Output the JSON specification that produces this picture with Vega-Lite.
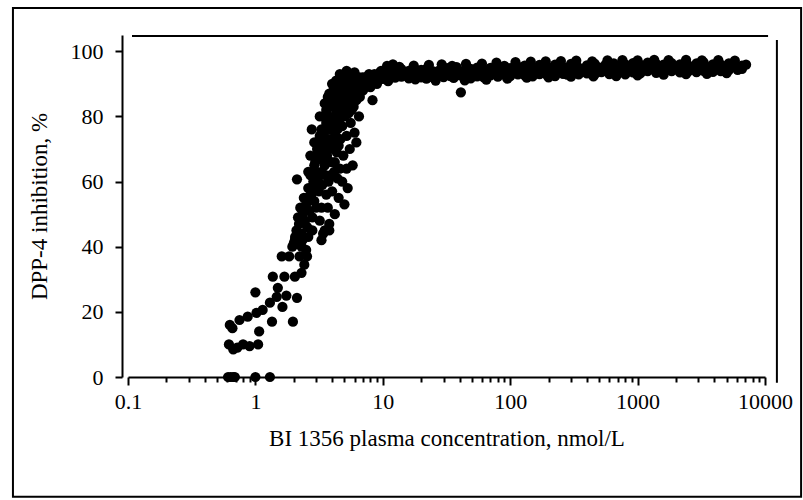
{
  "$schema": "https://vega.github.io/schema/vega-lite/v6.json",
  "width": 637,
  "height": 342,
  "autosize": {"type": "none"},
  "padding": {"left": 128, "top": 35, "right": 38, "bottom": 123},
  "background": "white",
  "config": {"view": {"stroke": null}, "font": "Liberation Serif"},
  "datasets": {
    "pts": [
      {"c": 0.61, "i": 0}, {"c": 0.64, "i": 0}, {"c": 0.67, "i": 0}, {"c": 0.69, "i": 0}, {"c": 1.0, "i": 0}, {"c": 1.3, "i": 0},
      {"c": 0.62, "i": 10}, {"c": 0.67, "i": 8.5}, {"c": 0.72, "i": 9}, {"c": 0.8, "i": 10}, {"c": 0.9, "i": 9.5}, {"c": 1.05, "i": 10},
      {"c": 0.63, "i": 16}, {"c": 0.66, "i": 15}, {"c": 0.75, "i": 17.5}, {"c": 0.87, "i": 18.5}, {"c": 1.0, "i": 26}, {"c": 1.02, "i": 19.7},
      {"c": 1.07, "i": 14}, {"c": 1.14, "i": 20.6}, {"c": 1.3, "i": 22.8}, {"c": 1.35, "i": 17}, {"c": 1.37, "i": 30.8}, {"c": 1.47, "i": 24.6},
      {"c": 1.5, "i": 27.4}, {"c": 1.63, "i": 21.5}, {"c": 1.69, "i": 30.8}, {"c": 1.75, "i": 25}, {"c": 1.61, "i": 37}, {"c": 1.84, "i": 37},
      {"c": 1.97, "i": 17}, {"c": 2.12, "i": 24.3}, {"c": 2.04, "i": 30.8}, {"c": 2.22, "i": 37}, {"c": 2.3, "i": 32}, {"c": 2.54, "i": 37},
      {"c": 2.42, "i": 34.5}, {"c": 1.95, "i": 40}, {"c": 2.05, "i": 43}, {"c": 2.3, "i": 40}, {"c": 2.5, "i": 39},
      {"c": 2.12, "i": 60.7}, {"c": 2.16, "i": 49}, {"c": 2.04, "i": 42}, {"c": 2.34, "i": 42}, {"c": 2.54, "i": 55}, {"c": 2.77, "i": 76},
      {"c": 3.2, "i": 74}, {"c": 2.9, "i": 65}, {"c": 3.1, "i": 58.5}, {"c": 3.3, "i": 52}, {"c": 3.4, "i": 44}, {"c": 3.8, "i": 45},
      {"c": 3.8, "i": 87}, {"c": 5.0, "i": 53}, {"c": 5.8, "i": 65}, {"c": 6.0, "i": 75}, {"c": 4.3, "i": 82}, {"c": 5.2, "i": 85},
      {"c": 5.8, "i": 91.4}, {"c": 8.3, "i": 85}, {"c": 6.9, "i": 92}, {"c": 9.5, "i": 93.5}, {"c": 12, "i": 96},
      {"c": 2.0, "i": 41}, {"c": 2.1, "i": 45}, {"c": 2.2, "i": 47}, {"c": 2.25, "i": 52}, {"c": 2.3, "i": 44}, {"c": 2.35, "i": 50},
      {"c": 2.4, "i": 55}, {"c": 2.45, "i": 48}, {"c": 2.5, "i": 53}, {"c": 2.55, "i": 46}, {"c": 2.6, "i": 58}, {"c": 2.65, "i": 51},
      {"c": 2.7, "i": 62}, {"c": 2.75, "i": 56}, {"c": 2.8, "i": 49}, {"c": 2.85, "i": 60}, {"c": 2.9, "i": 54}, {"c": 2.95, "i": 66},
      {"c": 3.0, "i": 58}, {"c": 3.0, "i": 63}, {"c": 3.05, "i": 70}, {"c": 3.1, "i": 61}, {"c": 3.15, "i": 57}, {"c": 3.2, "i": 67},
      {"c": 3.25, "i": 72}, {"c": 3.3, "i": 63}, {"c": 3.35, "i": 59}, {"c": 3.4, "i": 69}, {"c": 3.45, "i": 75}, {"c": 3.5, "i": 65},
      {"c": 3.5, "i": 71}, {"c": 3.55, "i": 62}, {"c": 3.6, "i": 78}, {"c": 3.65, "i": 68}, {"c": 3.7, "i": 73}, {"c": 3.75, "i": 60},
      {"c": 3.8, "i": 80}, {"c": 3.85, "i": 70}, {"c": 3.9, "i": 76}, {"c": 3.95, "i": 66}, {"c": 4.0, "i": 83}, {"c": 4.0, "i": 72},
      {"c": 4.1, "i": 78}, {"c": 4.15, "i": 63}, {"c": 4.2, "i": 86}, {"c": 4.25, "i": 74}, {"c": 4.3, "i": 80}, {"c": 4.35, "i": 69},
      {"c": 4.4, "i": 76}, {"c": 4.45, "i": 84}, {"c": 4.5, "i": 71}, {"c": 4.55, "i": 79}, {"c": 4.6, "i": 88}, {"c": 4.65, "i": 73},
      {"c": 4.7, "i": 82}, {"c": 4.8, "i": 77}, {"c": 4.85, "i": 86}, {"c": 4.9, "i": 68}, {"c": 5.0, "i": 80}, {"c": 5.0, "i": 89},
      {"c": 5.1, "i": 84}, {"c": 5.2, "i": 74}, {"c": 5.3, "i": 87}, {"c": 5.4, "i": 81}, {"c": 5.5, "i": 90}, {"c": 5.6, "i": 78},
      {"c": 5.7, "i": 85}, {"c": 5.8, "i": 88}, {"c": 5.9, "i": 83}, {"c": 6.0, "i": 91}, {"c": 6.1, "i": 87}, {"c": 6.3, "i": 89},
      {"c": 6.5, "i": 92}, {"c": 6.6, "i": 86}, {"c": 6.8, "i": 90}, {"c": 7.0, "i": 88}, {"c": 7.2, "i": 92}, {"c": 7.5, "i": 90},
      {"c": 7.8, "i": 93}, {"c": 8.0, "i": 89}, {"c": 8.3, "i": 91}, {"c": 8.6, "i": 93}, {"c": 9.0, "i": 90}, {"c": 9.3, "i": 92}, {"c": 9.7, "i": 94},
      {"c": 4.5, "i": 55}, {"c": 4.8, "i": 60}, {"c": 5.2, "i": 64}, {"c": 5.5, "i": 70}, {"c": 6.2, "i": 72}, {"c": 6.5, "i": 80},
      {"c": 5.3, "i": 58}, {"c": 4.2, "i": 50}, {"c": 3.8, "i": 47}, {"c": 3.5, "i": 45}, {"c": 3.2, "i": 48}, {"c": 4.0, "i": 57}, {"c": 3.3, "i": 42},
      {"c": 3.0, "i": 68}, {"c": 3.3, "i": 76}, {"c": 3.6, "i": 82}, {"c": 3.9, "i": 85}, {"c": 4.1, "i": 88}, {"c": 4.4, "i": 90},
      {"c": 4.7, "i": 91}, {"c": 5.0, "i": 92}, {"c": 5.4, "i": 93}, {"c": 6.0, "i": 93.5}, {"c": 3.6, "i": 56}, {"c": 3.9, "i": 62},
      {"c": 4.2, "i": 66}, {"c": 4.6, "i": 64}, {"c": 2.6, "i": 43}, {"c": 2.8, "i": 45}, {"c": 3.0, "i": 52}, {"c": 2.7, "i": 68},
      {"c": 3.4, "i": 80}, {"c": 4.0, "i": 90}, {"c": 4.8, "i": 91.5}, {"c": 5.3, "i": 91}, {"c": 5.6, "i": 93},
      {"c": 3.2, "i": 80}, {"c": 3.5, "i": 84}, {"c": 3.7, "i": 86}, {"c": 4.3, "i": 91}, {"c": 4.6, "i": 93}, {"c": 5.2, "i": 94},
      {"c": 3.9, "i": 73}, {"c": 4.3, "i": 77}, {"c": 4.7, "i": 80}, {"c": 5.2, "i": 82}, {"c": 5.7, "i": 82}, {"c": 6.2, "i": 85},
      {"c": 6.8, "i": 88}, {"c": 7.5, "i": 92}, {"c": 3.3, "i": 70}, {"c": 3.6, "i": 66}, {"c": 2.9, "i": 72}, {"c": 4.4, "i": 61},
      {"c": 3.7, "i": 52}, {"c": 2.6, "i": 63},
      {"c": 10, "i": 91.5}, {"c": 10, "i": 93.5}, {"c": 10.5, "i": 92.8}, {"c": 11, "i": 90.8}, {"c": 11, "i": 94.2}, {"c": 11.5, "i": 92.3},
      {"c": 12, "i": 93.6}, {"c": 12.5, "i": 91.9}, {"c": 13, "i": 93.0}, {"c": 14, "i": 92.2}, {"c": 14, "i": 94.5}, {"c": 15, "i": 93.3},
      {"c": 16, "i": 91.7}, {"c": 16, "i": 94.0}, {"c": 17, "i": 92.8}, {"c": 18, "i": 93.9}, {"c": 18, "i": 91.4}, {"c": 19, "i": 92.6},
      {"c": 20, "i": 94.3}, {"c": 20, "i": 92.0}, {"c": 21, "i": 93.1}, {"c": 22, "i": 91.6}, {"c": 22, "i": 94.6}, {"c": 24, "i": 92.9},
      {"c": 25, "i": 93.8}, {"c": 25, "i": 91.9}, {"c": 27, "i": 92.5}, {"c": 28, "i": 94.2}, {"c": 30, "i": 92.1}, {"c": 30, "i": 93.6},
      {"c": 32, "i": 94.8}, {"c": 34, "i": 92.4}, {"c": 34, "i": 93.3}, {"c": 36, "i": 91.8}, {"c": 38, "i": 93.9}, {"c": 38, "i": 95.1},
      {"c": 40, "i": 92.7}, {"c": 41, "i": 87.4}, {"c": 43, "i": 94.0}, {"c": 43, "i": 92.2}, {"c": 46, "i": 93.2}, {"c": 49, "i": 91.7},
      {"c": 49, "i": 94.6}, {"c": 52, "i": 93.5}, {"c": 55, "i": 92.3}, {"c": 55, "i": 95.0}, {"c": 58, "i": 93.8}, {"c": 62, "i": 92.0},
      {"c": 62, "i": 94.4}, {"c": 66, "i": 93.1}, {"c": 70, "i": 94.9}, {"c": 70, "i": 92.6}, {"c": 75, "i": 93.7}, {"c": 80, "i": 92.2},
      {"c": 80, "i": 95.2}, {"c": 85, "i": 94.1}, {"c": 90, "i": 92.8}, {"c": 90, "i": 95.5}, {"c": 96, "i": 93.6}, {"c": 100, "i": 92.4},
      {"c": 100, "i": 94.8}, {"c": 108, "i": 93.3}, {"c": 115, "i": 95.3}, {"c": 115, "i": 92.9}, {"c": 122, "i": 94.0}, {"c": 130, "i": 92.6},
      {"c": 130, "i": 95.6}, {"c": 140, "i": 93.9}, {"c": 150, "i": 92.3}, {"c": 150, "i": 95.0}, {"c": 160, "i": 94.2}, {"c": 170, "i": 93.0},
      {"c": 170, "i": 95.8}, {"c": 180, "i": 94.5}, {"c": 195, "i": 92.7}, {"c": 195, "i": 95.3}, {"c": 210, "i": 93.8}, {"c": 225, "i": 92.4},
      {"c": 225, "i": 95.9}, {"c": 240, "i": 94.4}, {"c": 260, "i": 93.1}, {"c": 260, "i": 95.2}, {"c": 280, "i": 92.8}, {"c": 300, "i": 94.6},
      {"c": 300, "i": 96.1}, {"c": 320, "i": 93.4}, {"c": 345, "i": 95.0}, {"c": 345, "i": 92.9}, {"c": 370, "i": 94.1}, {"c": 400, "i": 93.2},
      {"c": 400, "i": 95.7}, {"c": 430, "i": 94.8}, {"c": 460, "i": 92.9}, {"c": 460, "i": 96.2}, {"c": 490, "i": 95.1}, {"c": 520, "i": 93.6},
      {"c": 520, "i": 94.5}, {"c": 560, "i": 95.9}, {"c": 600, "i": 93.0}, {"c": 600, "i": 94.7}, {"c": 650, "i": 96.3}, {"c": 700, "i": 93.8},
      {"c": 700, "i": 95.2}, {"c": 750, "i": 94.4}, {"c": 800, "i": 92.9}, {"c": 800, "i": 96.0}, {"c": 860, "i": 95.0}, {"c": 920, "i": 93.5},
      {"c": 920, "i": 96.4}, {"c": 990, "i": 94.6}, {"c": 1050, "i": 93.2}, {"c": 1050, "i": 95.8}, {"c": 1130, "i": 94.9}, {"c": 1200, "i": 93.9},
      {"c": 1200, "i": 96.5}, {"c": 1300, "i": 95.3}, {"c": 1400, "i": 93.4}, {"c": 1400, "i": 96.1}, {"c": 1500, "i": 94.7}, {"c": 1600, "i": 95.9},
      {"c": 1600, "i": 93.6}, {"c": 1700, "i": 94.3}, {"c": 1850, "i": 96.4}, {"c": 1850, "i": 93.9}, {"c": 2000, "i": 95.1}, {"c": 2150, "i": 93.5},
      {"c": 2150, "i": 96.0}, {"c": 2300, "i": 94.6}, {"c": 2500, "i": 95.7}, {"c": 2500, "i": 93.8}, {"c": 2700, "i": 94.9}, {"c": 2900, "i": 93.6},
      {"c": 2900, "i": 96.3}, {"c": 3100, "i": 95.2}, {"c": 3300, "i": 94.0}, {"c": 3300, "i": 96.6}, {"c": 3600, "i": 95.0}, {"c": 3900, "i": 93.7},
      {"c": 3900, "i": 96.0}, {"c": 4200, "i": 94.8}, {"c": 4500, "i": 95.9}, {"c": 4500, "i": 93.9}, {"c": 4800, "i": 95.0}, {"c": 5200, "i": 94.2},
      {"c": 5200, "i": 96.3}, {"c": 5600, "i": 95.4}, {"c": 6100, "i": 94.3}, {"c": 6600, "i": 95.6}, {"c": 6600, "i": 94.6}, {"c": 7100, "i": 95.9},
      {"c": 10.8, "i": 95.5}, {"c": 13.5, "i": 95.2}, {"c": 17.5, "i": 95.6}, {"c": 23, "i": 95.8}, {"c": 29, "i": 96.0}, {"c": 35, "i": 95.5},
      {"c": 45, "i": 96.1}, {"c": 60, "i": 96.2}, {"c": 78, "i": 96.5}, {"c": 110, "i": 96.7}, {"c": 145, "i": 96.8}, {"c": 190, "i": 96.9},
      {"c": 250, "i": 97.0}, {"c": 330, "i": 97.1}, {"c": 440, "i": 96.9}, {"c": 580, "i": 97.2}, {"c": 760, "i": 97.3}, {"c": 1000, "i": 97.2},
      {"c": 1350, "i": 97.4}, {"c": 1750, "i": 97.3}, {"c": 2400, "i": 97.4}, {"c": 3200, "i": 97.2}, {"c": 4300, "i": 97.3}, {"c": 5800, "i": 97.1},
      {"c": 26, "i": 91.0}, {"c": 44, "i": 91.1}, {"c": 65, "i": 91.3}, {"c": 95, "i": 91.6}, {"c": 135, "i": 91.9}, {"c": 200, "i": 92.0},
      {"c": 300, "i": 92.2}, {"c": 450, "i": 92.3}, {"c": 680, "i": 92.4}, {"c": 1000, "i": 92.6}, {"c": 1600, "i": 92.8}, {"c": 2400, "i": 93.0},
      {"c": 3500, "i": 93.1}, {"c": 5000, "i": 93.3}
    ]
  },
  "layer": [
    {
      "data": {"name": "pts"},
      "mark": {"type": "circle", "size": 105, "color": "black", "opacity": 1, "clip": false},
      "encoding": {
        "x": {
          "field": "c", "type": "quantitative",
          "scale": {"type": "log", "domain": [0.1, 10000]},
          "axis": {
            "title": "BI 1356 plasma concentration, nmol/L",
            "values": [0.1,0.2,0.3,0.4,0.5,0.6,0.7,0.8,0.9,1,2,3,4,5,6,7,8,9,10,20,30,40,50,60,70,80,90,100,200,300,400,500,600,700,800,900,1000,2000,3000,4000,5000,6000,7000,8000,9000,10000],
            "labelExpr": "abs(log(datum.value)/LN10 - round(log(datum.value)/LN10)) < 0.001 ? format(datum.value, '~g') : ''",
            "labelOverlap": false,
            "labelBound": false,
            "labelFlush": false,
            "tickSize": {"condition": {"test": "abs(log(datum.value)/LN10 - round(log(datum.value)/LN10)) < 0.001", "value": 8}, "value": 5},
            "tickColor": "black", "tickWidth": 2,
            "domainColor": "black", "domainWidth": 2,
            "labelColor": "black", "labelFontSize": 22, "labelFont": "Liberation Serif", "labelPadding": 6,
            "titleColor": "black", "titleFontSize": 23, "titleFont": "Liberation Serif", "titleFontWeight": "normal", "titlePadding": 15,
            "grid": false
          }
        },
        "y": {
          "field": "i", "type": "quantitative",
          "scale": {"domain": [0, 105], "nice": false, "zero": false},
          "axis": {
            "title": "DPP-4 inhibition, %",
            "values": [0,10,20,30,40,50,60,70,80,90,100],
            "labelExpr": "datum.value % 20 == 0 ? datum.label : ''",
            "offset": 6,
            "tickSize": {"condition": {"test": "datum.value % 20 == 0", "value": 7}, "value": 5},
            "tickColor": "black", "tickWidth": 2,
            "domainColor": "black", "domainWidth": 2,
            "labelColor": "black", "labelFontSize": 22, "labelFont": "Liberation Serif", "labelPadding": 12,
            "labelOverlap": false, "labelBound": false, "labelFlush": false,
            "titleColor": "black", "titleFontSize": 23, "titleFont": "Liberation Serif", "titleFontWeight": "normal", "titlePadding": 19,
            "grid": false
          }
        }
      }
    },
    {
      "data": {"values": [{}]},
      "mark": {"type": "rect", "fillOpacity": 0, "stroke": "black", "strokeWidth": 2, "clip": false},
      "encoding": {
        "x": {"datum": 0.0125, "type": "quantitative"},
        "x2": {"datum": 19200},
        "y": {"datum": 113.3, "type": "quantitative"},
        "y2": {"datum": -36.8}
      }
    },
    {
      "data": {"values": [{}]},
      "mark": {"type": "rule", "stroke": "black", "strokeWidth": 2, "clip": false},
      "encoding": {
        "x": {"datum": 0.1075, "type": "quantitative"},
        "x2": {"datum": 10570},
        "y": {"datum": 104.7, "type": "quantitative"}
      }
    },
    {
      "data": {"values": [{}]},
      "mark": {"type": "rule", "stroke": "black", "strokeWidth": 2, "clip": false},
      "encoding": {
        "x": {"datum": 12400, "type": "quantitative"},
        "y": {"datum": 103.5, "type": "quantitative"},
        "y2": {"datum": -1.8}
      }
    }
  ]
}
